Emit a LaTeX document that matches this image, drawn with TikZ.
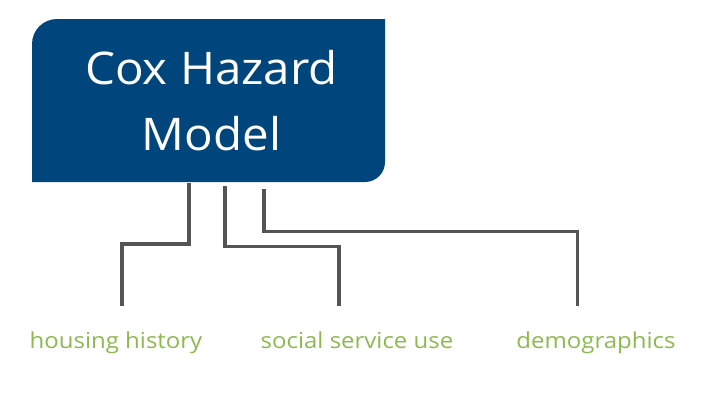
\documentclass[tikz,border=0pt]{standalone}
\usepackage{fontspec}
\setmainfont{Open Sans}
\newfontfamily\titlefont[FakeStretch=1.055]{Open Sans}
\newfontfamily\labelfont[FakeStretch=1.09]{Open Sans}
\usetikzlibrary{calc}
\definecolor{boxblue}{HTML}{00457B}
\definecolor{linegray}{HTML}{555555}
\definecolor{labelgreen}{HTML}{8CBA4E}
\tikzset{
  conn/.style={draw=linegray, line width=3.3pt, line cap=butt, line join=miter},
  label/.style={text=labelgreen, font=\labelfont\fontsize{22}{26}\selectfont, anchor=base, inner sep=0pt},
  title/.style={text=white, font=\titlefont\fontsize{45}{66}\selectfont, align=center,
    minimum width=353pt, minimum height=163pt, inner sep=0pt, shape=rectangle}
}
\begin{document}
\begin{tikzpicture}[x=1pt,y=1pt]
\useasboundingbox (0,0) rectangle (720,-405);
% blue box with two rounded corners
\fill[boxblue] (32,-182) -- (32,-44) arc[start angle=180, end angle=90, radius=25]
  -- (385,-19) -- (385,-162) arc[start angle=0, end angle=-90, radius=20] -- cycle;
\node[title] (model) at (211.5,-100.5) {Cox Hazard\\Model};
% labels
\node[label] (hh) at (116,-348.5) {housing history};
\node[label] (ss) at (357,-348.5) {social service use};
\node[label] (dm) at (596,-348.5) {demographics};
% connector end points
\coordinate (e1) at (122,-306);
\coordinate (e2) at (339,-306);
\coordinate (e3) at (577.5,-306);
% connectors
\draw[conn] ($(model.south)+(-22.5,-1)$) |- ($(e1)+(0,62)$) -- (e1);
\draw[conn] ($(model.south)+(13.5,-4)$) |- ($(e2)+(0,59.5)$) -- (e2);
\draw[conn] ($(model.south)+(52.5,-7)$) |- ($(e3)+(0,74.5)$) -- (e3);
\end{tikzpicture}
\end{document}
